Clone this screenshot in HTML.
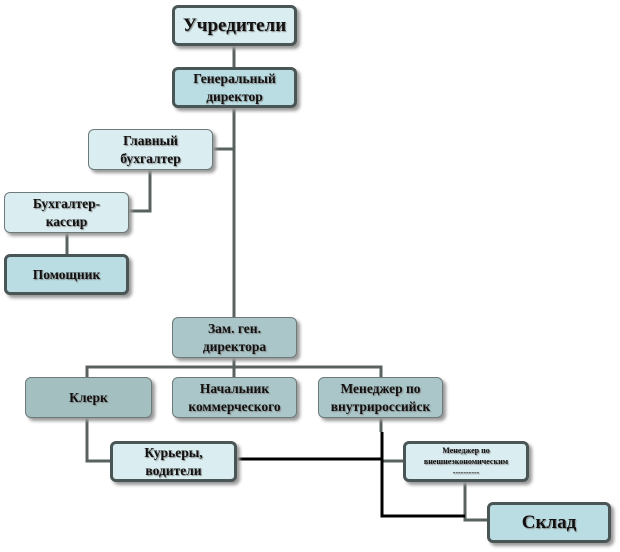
<!DOCTYPE html>
<html><head><meta charset="utf-8"><style>
body{margin:0;width:620px;height:552px;background:#fff;position:relative;overflow:hidden;font-family:"Liberation Serif","Noto Serif CJK SC",serif;}
.b{position:absolute;box-sizing:border-box;border:1.5px solid #6e7a7a;border-radius:6px;display:flex;align-items:center;justify-content:center;text-align:center;font-weight:bold;font-size:13.5px;line-height:18px;color:#111;box-shadow:3px 3px 3px #999;text-shadow:1px 1px 1px #888;}
.t{border:3px solid #4a5556;}
.l{background:#daeef1}.m{background:#b9dde2}.d{background:#a3bfbf}.e{background:#aac6c8}
svg{position:absolute;left:0;top:0}
</style></head><body>
<svg width="620" height="552">
<g stroke="#59625f" stroke-width="3" fill="none">
<line x1="234" y1="45" x2="234" y2="317"/>
<polyline points="213,149 234,149"/>
<polyline points="150,170 150,211 129,211"/>
<line x1="67" y1="232" x2="67" y2="254"/>
<line x1="234" y1="357" x2="234" y2="377"/>
<polyline points="87,377 87,367 381,367 381,377"/>
<polyline points="87,418 87,461 110,461"/>
<line x1="381" y1="418" x2="381" y2="432"/>
<line x1="381" y1="461" x2="403" y2="461"/>
<polyline points="465,482 465,520 487,520"/>
</g>
<g stroke="#000" stroke-width="3" fill="none">
<line x1="237" y1="459" x2="381" y2="459"/>
<polyline points="382,432 382,516 465,516"/>
</g>
</svg>
<div class="b t l" style="left:172px;top:5px;width:125px;height:41px;font-size:19px">Учредители</div>
<div class="b t m" style="left:172px;top:67px;width:125px;height:41px">Генеральный<br>директор</div>
<div class="b l" style="left:88px;top:129px;width:125px;height:41px">Главный<br>бухгалтер</div>
<div class="b l" style="left:4px;top:192px;width:125px;height:41px">Бухгалтер-<br>кассир</div>
<div class="b t m" style="left:4px;top:254px;width:125px;height:41px">Помощник</div>
<div class="b e" style="left:172px;top:317px;width:125px;height:41px">Зам. ген.<br>директора</div>
<div class="b d" style="left:25px;top:377px;width:127px;height:41px">Клерк</div>
<div class="b e" style="left:172px;top:377px;width:125px;height:41px">Начальник<br>коммерческого</div>
<div class="b e" style="left:318px;top:377px;width:125px;height:41px">Менеджер по<br>внутрироссийск</div>
<div class="b t l" style="left:110px;top:441px;width:127px;height:41px">Курьеры,<br>водители</div>
<div class="b t l" style="left:403px;top:441px;width:126px;height:41px;font-size:8px;line-height:11px">Менеджер по<br>внешнеэкономическим<br>----------</div>
<div class="b t m" style="left:487px;top:502px;width:124px;height:41px;font-size:19px">Склад</div>
</body></html>
